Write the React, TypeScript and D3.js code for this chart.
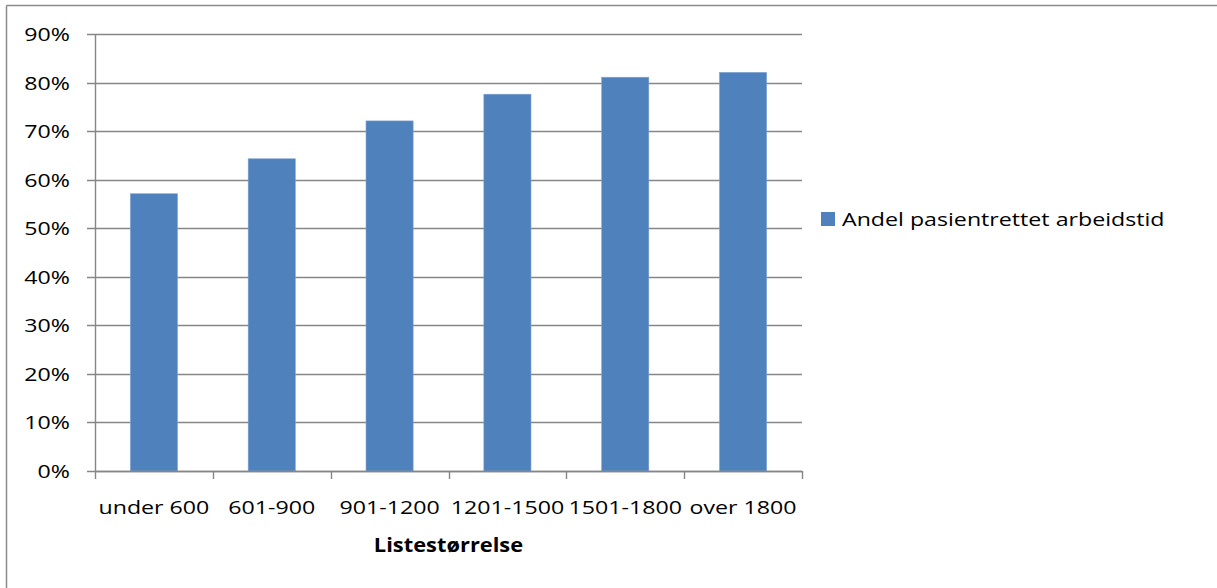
import React from "react";
import * as d3 from "d3";

const categories = ["under 600", "601-900", "901-1200", "1201-1500", "1501-1800", "over 1800"];
const values = [0.571, 0.643, 0.721, 0.776, 0.811, 0.821];
const yTicks = [0, 0.1, 0.2, 0.3, 0.4, 0.5, 0.6, 0.7, 0.8, 0.9];
const seriesName = "Andel pasientrettet arbeidstid";
const xTitle = "Listestørrelse";

const W = 1217;
const H = 588;
const FONT = "'Open Sans', 'Noto Sans', sans-serif";
const FS = 19;
const SX = 1.22;

function T(props: { x: number; y: number; anchor?: string; bold?: boolean; sx?: number; children: React.ReactNode }) {
  const sx = props.sx ?? SX;
  return (
    <text
      transform={`translate(${props.x},${props.y}) scale(${sx},1)`}
      textAnchor={props.anchor ?? "start"}
      fontSize={FS}
      fontWeight={props.bold ? "bold" : "normal"}
      fill="#000"
    >
      {props.children}
    </text>
  );
}

export default function App() {
  const left = 95, right = 802, top = 34, bottom = 471;
  const x = d3.scaleBand<string>().domain(categories).range([left, right]).paddingInner(0.6).paddingOuter(0.3);
  const xc = d3.scaleBand<string>().domain(categories).range([left, right]);
  const y = d3.scaleLinear().domain([0, 0.9]).range([bottom, top]);
  const fmt = d3.format(".0%");
  const grid = "#868686";
  return (
    <svg width={W} height={H} style={{ position: "absolute", left: 0, top: 0, background: "#fff" }} fontFamily={FONT}>
      <rect x={0} y={0} width={W} height={H} fill="#fff" />
      <line x1={6.5} y1={5.5} x2={W} y2={5.5} stroke="#8a8a8a" strokeWidth={1.5} />
      <line x1={6.5} y1={5.5} x2={6.5} y2={H} stroke="#8a8a8a" strokeWidth={1.5} />
      {yTicks.map((t) => (
        <g key={t}>
          <line x1={87} x2={right} y1={Math.round(y(t)) + 0.5} y2={Math.round(y(t)) + 0.5} stroke={grid} strokeWidth={1.4} />
          <T x={70} y={y(t) + 7} anchor="end">{fmt(t)}</T>
        </g>
      ))}
      <line x1={left + 0.5} x2={left + 0.5} y1={top} y2={bottom} stroke={grid} strokeWidth={1.4} />
      {categories.map((c, i) => (
        <rect key={c} x={x(c)} y={y(values[i])} width={x.bandwidth()} height={bottom - y(values[i])} fill="#4F81BD" stroke="#7fa3d1" strokeWidth={0.6} />
      ))}
      {[...categories.map((c) => xc(c) as number), right].map((px, i) => (
        <line key={i} x1={Math.round(px) + 0.5} x2={Math.round(px) + 0.5} y1={bottom} y2={bottom + 8} stroke={grid} strokeWidth={1.4} />
      ))}
      <line x1={left} x2={right} y1={bottom + 0.5} y2={bottom + 0.5} stroke={grid} strokeWidth={1.4} />
      {categories.map((c) => (
        <T key={c} x={(xc(c) as number) + xc.bandwidth() / 2} y={514} anchor="middle">{c}</T>
      ))}
      <T x={(left + right) / 2} y={552} anchor="middle" bold sx={1.15}>{xTitle}</T>
      <rect x={821} y={212} width={14} height={14} fill="#4F81BD" />
      <T x={842} y={226}>{seriesName}</T>
    </svg>
  );
}
